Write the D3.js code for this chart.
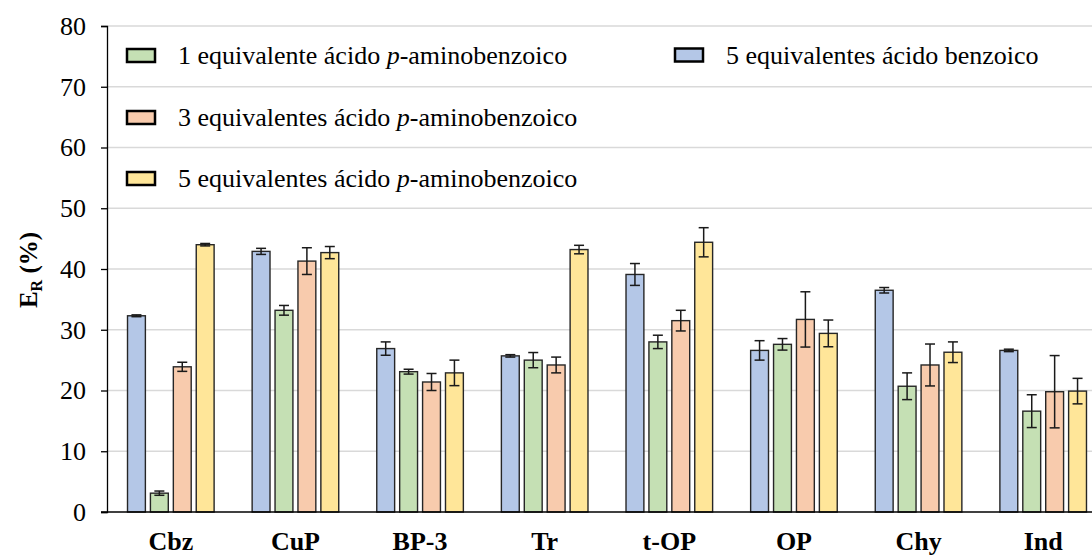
<!DOCTYPE html>
<html>
<head>
<meta charset="utf-8">
<script src="https://cdn.jsdelivr.net/npm/d3@7"></script>
<style>
  svg text { font-family: 'Liberation Serif', 'Times New Roman', serif; }
</style>
</head>
<body style="margin:0; background:#fff">
<svg id="chart" width="1092" height="556"></svg>
<script>
// categories and series
var categories = ["Cbz", "CuP", "BP-3", "Tr", "t-OP", "OP", "Chy", "Ind"];
var seriesNames = [
  "5 equivalentes ácido benzoico",
  "1 equivalente ácido p-aminobenzoico",
  "3 equivalentes ácido p-aminobenzoico",
  "5 equivalentes ácido p-aminobenzoico"
];
var benzoico5 = [32.3, 42.9, 26.9, 25.7, 39.1, 26.6, 36.5, 26.6];
var benzoico5Err = [0.15, 0.5, 1.1, 0.2, 1.8, 1.6, 0.45, 0.2];
var amino1 = [3.1, 33.2, 23.1, 25.0, 28.0, 27.6, 20.7, 16.6];
var amino1Err = [0.35, 0.8, 0.4, 1.25, 1.1, 0.95, 2.2, 2.7];
var amino3 = [23.9, 41.3, 21.4, 24.2, 31.5, 31.7, 24.2, 19.8];
var amino3Err = [0.75, 2.2, 1.4, 1.3, 1.7, 4.55, 3.45, 5.95];
var amino5 = [44.0, 42.7, 22.9, 43.2, 44.4, 29.4, 26.3, 19.9];
var amino5Err = [0.2, 1.0, 2.1, 0.7, 2.4, 2.2, 1.7, 2.1];
var yTicks = [0, 10, 20, 30, 40, 50, 60, 70, 80];

var colors = ["#b4c7e7", "#c5e0b4", "#f8cbad", "#ffe699"];
var values = [benzoico5, amino1, amino3, amino5];
var errors = [benzoico5Err, amino1Err, amino3Err, amino5Err];

function serif(size, extra) {
  return "font-family:'Liberation Serif'; font-size:" + size + "px;" + (extra || "");
}
var width = 1092, height = 556;

var svg = d3.select("#chart");

var x = d3.scaleBand()
    .domain(categories)
    .range([108.5, 1105.5])
    .padding(0);

var xs = d3.scaleBand()
    .domain(d3.range(4))
    .range([0, x.bandwidth()])
    .paddingInner(0.22)
    .paddingOuter(0.83);

var y = d3.scaleLinear()
    .domain([0, 80])
    .range([512, 26]);

var axisX = 107;

// gridlines
svg.append("g")
  .selectAll("line")
  .data(yTicks.filter(function(d) { return d > 0; }))
  .join("line")
    .attr("x1", axisX)
    .attr("x2", width)
    .attr("y1", function(d) { return y(d); })
    .attr("y2", function(d) { return y(d); })
    .attr("stroke", "#d9d9d9")
    .attr("stroke-width", 1.3);

// y axis
var yAxis = svg.append("g")
    .attr("transform", "translate(" + axisX + ",0)")
    .call(d3.axisLeft(y).tickValues(yTicks).tickSize(6).tickPadding(15));
yAxis.attr("font-family", null).attr("font-size", null);
yAxis.select(".domain").attr("stroke", "#000").attr("stroke-width", 1.3);
yAxis.selectAll(".tick line").attr("stroke", "#000").attr("stroke-width", 1.3);
yAxis.selectAll(".tick text")
    .attr("style", serif(26))
    .attr("fill", "#000");

// bars
var rows = [];
categories.forEach(function(c, i) {
  for (var s = 0; s < 4; s++) {
    rows.push({ cat: c, s: s, v: values[s][i], e: errors[s][i] });
  }
});

svg.append("g")
  .selectAll("rect")
  .data(rows)
  .join("rect")
    .attr("x", function(d) { return x(d.cat) + xs(d.s); })
    .attr("y", function(d) { return y(d.v); })
    .attr("width", xs.bandwidth())
    .attr("height", function(d) { return y(0) - y(d.v); })
    .attr("fill", function(d) { return colors[d.s]; })
    .attr("stroke", "#262626")
    .attr("stroke-width", 1.4);

// error bars
var eb = svg.append("g").attr("stroke", "#1a1a1a").attr("stroke-width", 1.5);
rows.forEach(function(d) {
  var cx = x(d.cat) + xs(d.s) + xs.bandwidth() / 2;
  var y1 = y(d.v + d.e), y2 = y(d.v - d.e);
  eb.append("line").attr("x1", cx).attr("x2", cx).attr("y1", y1).attr("y2", y2);
  eb.append("line").attr("x1", cx - 5).attr("x2", cx + 5).attr("y1", y1).attr("y2", y1);
  eb.append("line").attr("x1", cx - 5).attr("x2", cx + 5).attr("y1", y2).attr("y2", y2);
});

// x axis baseline
svg.append("line")
    .attr("x1", axisX - 6).attr("x2", width)
    .attr("y1", y(0)).attr("y2", y(0))
    .attr("stroke", "#000").attr("stroke-width", 1.3);

// x labels
svg.append("g")
  .selectAll("text")
  .data(categories)
  .join("text")
    .attr("x", function(d) { return x(d) + xs(0) + (xs(3) + xs.bandwidth() - xs(0)) / 2; })
    .attr("y", 550)
    .attr("text-anchor", "middle")
    .attr("style", serif(26, "font-weight:bold"))
    .text(function(d) { return d; });

// y title
var yt = svg.append("text")
    .attr("transform", "translate(37,270) rotate(-90)")
    .attr("text-anchor", "middle")
    .attr("style", serif(25, "font-weight:bold"));
yt.append("tspan").text("E");
yt.append("tspan").attr("style", "font-size:16px").attr("dy", 5).text("R");
yt.append("tspan").attr("dy", -5).text(" (%)");

// legend
var legendPos = [
  { s: 1, x: 127, y: 55.5 },
  { s: 0, x: 675, y: 55 },
  { s: 2, x: 127, y: 117.5 },
  { s: 3, x: 127, y: 178.5 }
];
var leg = svg.append("g");
legendPos.forEach(function(p) {
  leg.append("rect")
      .attr("x", p.x).attr("y", p.y - 6.5)
      .attr("width", 28).attr("height", 13)
      .attr("fill", colors[p.s])
      .attr("stroke", "#000")
      .attr("stroke-width", 2.5);
  var t = leg.append("text")
      .attr("x", p.x + 51).attr("y", p.y + 8.5)
      .attr("style", serif(26));
  var name = seriesNames[p.s];
  var k = name.indexOf(" p-");
  if (k < 0) {
    t.text(name);
  } else {
    t.append("tspan").text(name.slice(0, k + 1));
    t.append("tspan").attr("style", "font-style:italic").text("p");
    t.append("tspan").text(name.slice(k + 2));
  }
});
</script>
</body>
</html>
